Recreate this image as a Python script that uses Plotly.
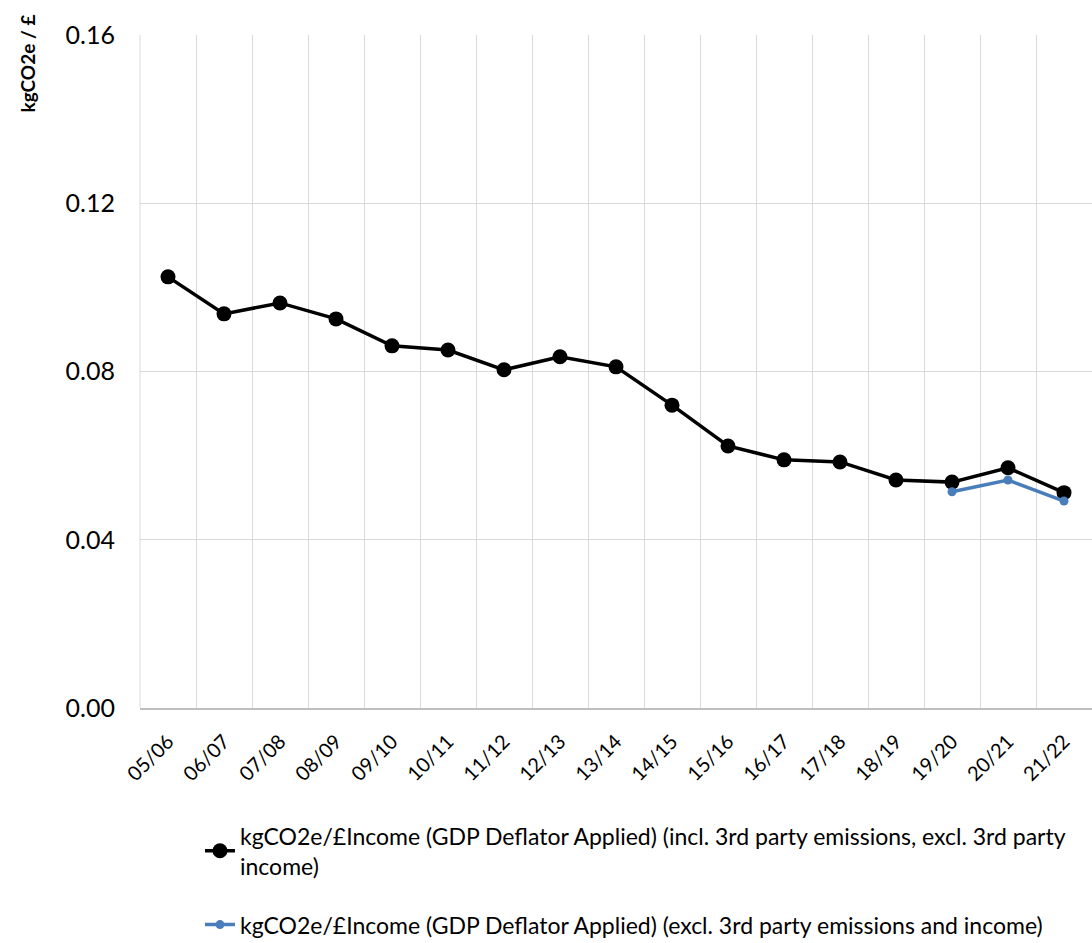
import plotly.graph_objects as go

years = ["05/06", "06/07", "07/08", "08/09", "09/10", "10/11", "11/12", "12/13", "13/14",
         "14/15", "15/16", "16/17", "17/18", "18/19", "19/20", "20/21", "21/22"]
incl_3rd = [0.1025, 0.0937, 0.0963, 0.0925, 0.0861, 0.0851, 0.0804, 0.0835, 0.0811,
            0.0720, 0.0623, 0.0590, 0.0585, 0.0542, 0.0537, 0.0571, 0.0512]
excl_years = ["19/20", "20/21", "21/22"]
excl_3rd = [0.0514, 0.0542, 0.0492]

name1 = "kgCO2e/£Income (GDP Deflator Applied) (incl. 3rd party emissions, excl. 3rd party<br>income)"
name2 = "kgCO2e/£Income (GDP Deflator Applied) (excl. 3rd party emissions and income)"

fig = go.Figure()
fig.add_trace(go.Scatter(x=years, y=incl_3rd, mode="lines+markers", name=name1,
                         legendgroup="a",
                         line=dict(color="#000000", width=3.5),
                         marker=dict(color="#000000", size=15)))
fig.add_trace(go.Scatter(x=excl_years, y=excl_3rd, mode="lines+markers", name=name2,
                         legendgroup="b",
                         line=dict(color="#4a7ebb", width=3.5),
                         marker=dict(color="#4a7ebb", size=9)))

font = "Lato, 'Open Sans', sans-serif"
fig.update_layout(
    width=1092, height=943,
    margin=dict(l=140, r=0, t=35, b=235, autoexpand=False),
    plot_bgcolor="white", paper_bgcolor="white",
    font=dict(family=font, color="#000000"),
    xaxis=dict(type="category", categoryorder="array", categoryarray=years,
               range=[-0.5, 16.5], tickson="boundaries", showgrid=True,
               gridcolor="#d9d9d9", gridwidth=1, tickangle=-45,
               tickfont=dict(size=20), ticks="", ticklabelstandoff=12, showline=True,
               linecolor="#bfbfbf", linewidth=2, zeroline=False, automargin=False),
    yaxis=dict(range=[0, 0.16], tickvals=[0, 0.04, 0.08, 0.12, 0.16],
               ticktext=["0.00", "0.04", "0.08", "0.12", "0.16"],
               showgrid=True, gridcolor="#d9d9d9", gridwidth=1,
               tickfont=dict(size=25), zeroline=False, showline=False,
               ticks="", ticklabelstandoff=24, automargin=False),
    legend=dict(orientation="v", x=0.063, xanchor="left", y=-0.158, yanchor="top",
                font=dict(size=23), tracegroupgap=26, bgcolor="rgba(0,0,0,0)"),
    showlegend=True,
)
fig.add_shape(type="line", xref="paper", yref="paper", x0=0, x1=0, y0=0, y1=1,
              line=dict(color="#d9d9d9", width=1), layer="below")
fig.add_annotation(text="<b>kgCO2e / £</b>", xref="paper", yref="paper",
                   x=-0.118, y=1.033, xanchor="center", yanchor="top", textangle=-90,
                   showarrow=False, font=dict(size=19))

fig.write_html("out.html")
